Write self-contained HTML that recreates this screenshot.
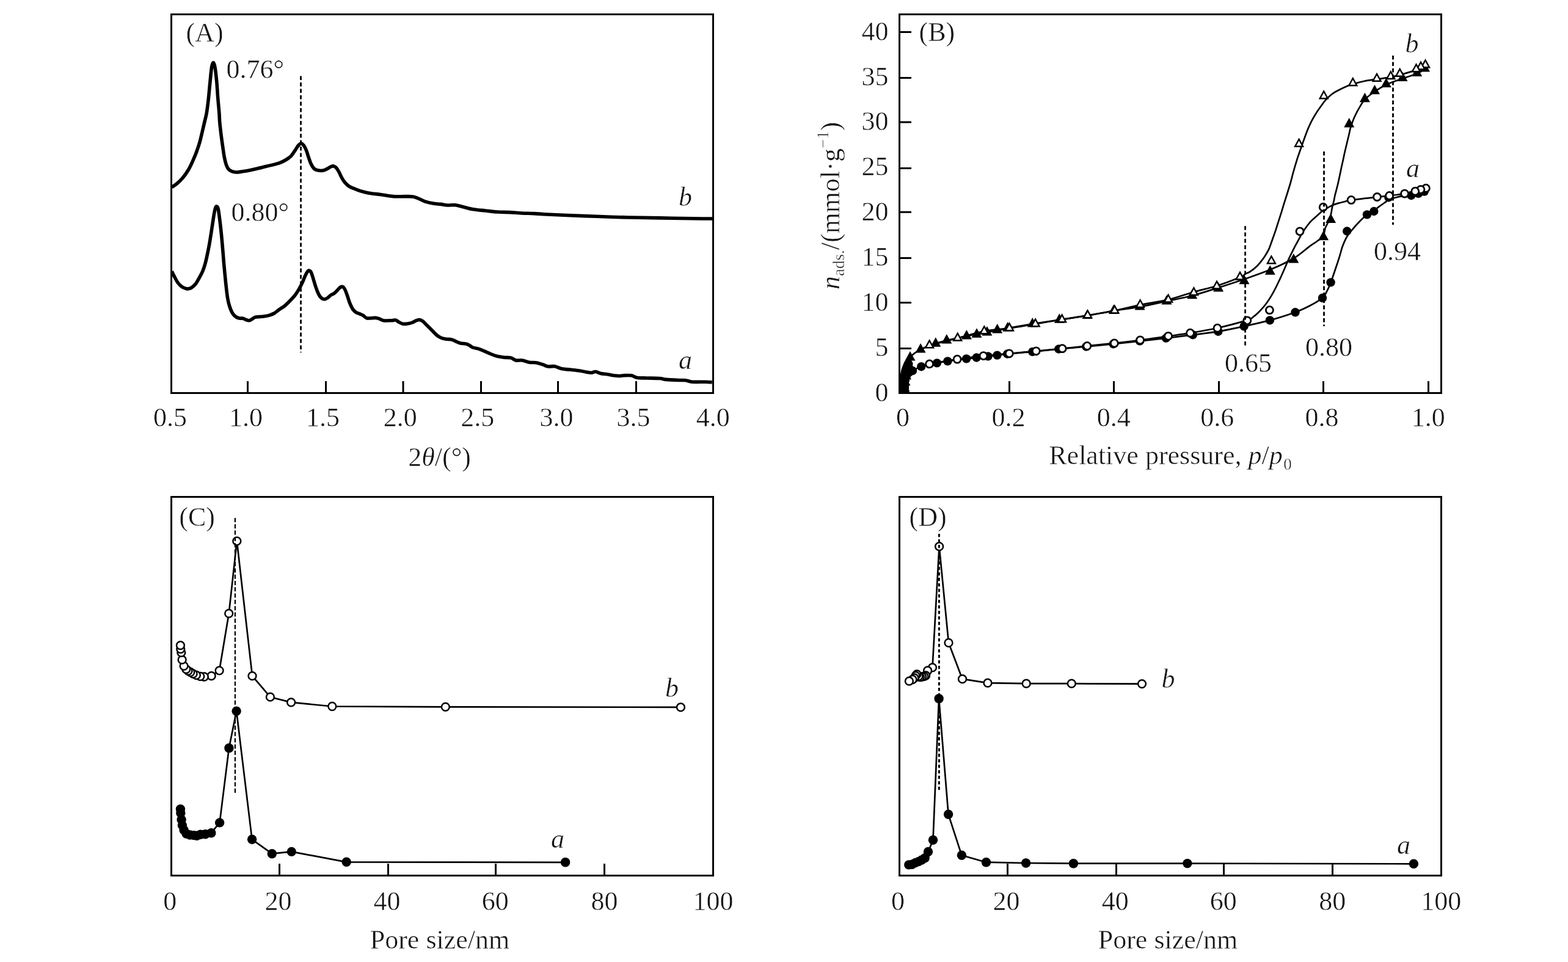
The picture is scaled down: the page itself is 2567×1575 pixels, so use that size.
<!DOCTYPE html>
<html lang="en"><head><meta charset="utf-8"><title>Figure</title>
<style>
html,body{margin:0;padding:0;background:#fff;}
body{width:2567px;height:1575px;overflow:hidden;}
svg{display:block;}
text{font-family:"Liberation Serif",serif;font-size:44px;fill:#111;stroke:#fff;stroke-width:.5px;}
.i{font-style:italic;}
</style></head>
<body>
<svg width="2567" height="1575" viewBox="0 0 2567 1575">
<rect width="2567" height="1575" fill="#fff"/>
<rect x="280.5" y="23.5" width="887.0" height="620.0" fill="none" stroke="#000" stroke-width="3"/>
<path d="M405.5 643.5V624.0 M533.5 643.5V624.0 M660 643.5V624.0 M787.5 643.5V624.0 M913.5 643.5V624.0 M1041.5 643.5V624.0" stroke="#000" stroke-width="3" fill="none"/>
<text x="278.6" y="698" text-anchor="middle">0.5</text>
<text x="402.5" y="698" text-anchor="middle">1.0</text>
<text x="528.5" y="698" text-anchor="middle">1.5</text>
<text x="655.3" y="698" text-anchor="middle">2.0</text>
<text x="781.8" y="698" text-anchor="middle">2.5</text>
<text x="911" y="698" text-anchor="middle">3.0</text>
<text x="1037" y="698" text-anchor="middle">3.5</text>
<text x="1167.3" y="698" text-anchor="middle">4.0</text>
<text x="719.5" y="762.6" text-anchor="middle">2<tspan class="i">θ</tspan>/(°)</text>
<text x="304.5" y="68">(A)</text>
<path d="M492.5 124.5V577" fill="none" stroke="#000" stroke-width="2.8" stroke-dasharray="6.5 4"/>
<path d="M281.2 306.5C282.6 305.5 286.8 303 289.8 300.5C292.8 298 296 295.1 299.1 291.3C302.2 287.6 305.8 282.4 308.4 278C311 273.6 312.8 269.7 315 264.8C317.2 259.9 319.6 254.2 321.6 248.9C323.6 243.6 325.4 238.4 326.9 233.1C328.4 227.8 329.5 222.7 330.8 217.2C332.1 211.7 333.6 205.2 334.8 200C336 194.8 337.1 191.5 338.1 185.8C339.1 180.1 340 172.6 340.8 166C341.6 159.4 342.2 152.7 342.8 146.1C343.4 139.5 344.1 132.5 344.7 126.3C345.3 120.1 345.9 113.1 346.7 109.1C347.5 105.1 348.5 102.3 349.4 102.5C350.3 102.7 351.1 105.3 352 110.4C352.9 115.5 353.9 124.7 354.7 132.9C355.5 141.1 355.9 150.6 356.6 159.4C357.3 168.2 358.4 179 358.9 185.8C359.4 192.6 359.2 194.3 359.7 200C360.2 205.7 361.1 213.2 361.9 219.8C362.7 226.4 363.7 233.5 364.6 239.7C365.5 245.9 366.2 251.8 367.2 256.9C368.2 262 369.3 266.7 370.5 270.1C371.7 273.5 372.9 275.6 374.5 277.4C376.1 279.2 377.8 279.9 379.8 280.7C381.8 281.5 383.8 281.9 386.4 282C389 282.1 391.9 281.6 395.7 281C399.4 280.4 404.5 279.6 408.9 278.7C413.3 277.8 417.7 276.7 422.1 275.7C426.5 274.7 430.9 273.6 435.3 272.5C439.7 271.4 444.6 270.5 448.6 269.4C452.6 268.3 455.9 267.4 459.2 266.1C462.5 264.8 465.5 263.2 468.4 261.5C471.2 259.8 473.9 258.1 476.3 255.6C478.7 253.1 481 249.2 483 246.3C485 243.4 486.7 240.3 488.3 238.4C489.9 236.5 491.4 234.7 492.9 234.7C494.4 234.7 496.1 236.5 497.5 238.4C498.9 240.3 500.2 243 501.5 246.3C502.8 249.6 504.1 254.4 505.4 258.2C506.7 261.9 507.8 265.8 509.4 268.8C510.9 271.9 512.7 274.8 514.7 276.5C516.7 278.2 518.9 278.7 521.3 279.1C523.7 279.5 526.6 279.7 529.3 279.1C531.9 278.5 535 276.5 537.2 275.4C539.4 274.3 541 273.1 542.5 272.5C544 271.9 545.2 271.7 546.5 272.1C547.8 272.5 549.1 273.3 550.4 274.7C551.7 276.1 552.8 277.9 554.4 280.7C556 283.5 557.9 288.2 559.7 291.3C561.5 294.4 563 296.9 565 299.2C567 301.5 569.2 303.6 571.6 305.2C574 306.8 576.5 307.5 579.5 308.7C582.5 309.9 585.9 311.4 589.8 312.6C593.7 313.8 597.6 314.9 603.1 315.9C608.6 316.9 616.1 317.6 622.9 318.5C629.7 319.4 637.5 321.1 644.1 321.6C650.7 322.1 657.3 321.6 662.6 321.6C667.9 321.7 672.3 321.4 675.8 321.9C679.3 322.4 680.5 323.2 683.8 324.5C687.1 325.8 691.5 328.4 695.7 329.8C699.9 331.2 704.5 332.3 708.9 333.1C713.3 333.9 718.1 333.9 722.1 334.4C726.1 334.9 728.7 335.8 732.7 336C736.7 336.2 741.5 335.2 745.9 335.7C750.3 336.2 754.4 337.8 759.2 339C764.1 340.2 769 341.8 775 342.8C781 343.8 788.3 344.3 794.9 345C801.5 345.7 808.1 346.6 814.7 347C821.3 347.4 828 347.3 834.6 347.6C841.2 347.9 847.8 348.7 854.4 349C861 349.3 868.3 349.3 874.2 349.6C880.1 349.9 881.9 350.2 890 350.7C898.1 351.1 908.6 351.7 922.9 352.3C937.2 352.9 958.2 353.7 975.8 354.3C993.4 354.9 1011.1 355.6 1028.7 356C1046.3 356.4 1063.9 356.6 1081.6 356.9C1099.2 357.2 1120.5 357.6 1134.6 357.8C1148.7 358 1161 358 1166.3 358" fill="none" stroke="#000" stroke-width="5.6" stroke-linejoin="round"/>
<path d="M281.2 444.3C282 445.9 284.2 450.5 285.9 453.6C287.6 456.7 289.2 460.2 291.2 462.9C293.2 465.5 295.6 467.9 297.8 469.5C300 471.1 302.6 471.8 304.4 472.4C306.2 472.9 306.8 473.1 308.4 472.8C309.9 472.5 311.7 472.1 313.7 470.8C315.7 469.5 318.1 467.7 320.3 464.8C322.5 461.9 324.9 457.2 326.9 453.6C328.9 450 330.7 446.8 332.2 443C333.7 439.2 334.9 435.5 336.1 431.1C337.3 426.7 338.3 421.9 339.4 416.6C340.5 411.3 341.8 404.9 342.8 399.4C343.8 393.9 344.5 389 345.4 383.5C346.3 378 347.1 372 348 366.3C348.9 360.6 349.9 353.4 350.7 349.1C351.5 344.8 352 342.4 352.7 340.5C353.4 338.6 354 337.8 354.7 337.9C355.4 338 356.3 338.7 357 341.2C357.7 343.7 358.2 347.8 358.9 353.1C359.6 358.4 360.6 366.3 361.3 372.9C362 379.5 362.7 386.2 363.3 392.8C363.9 399.4 364.4 406 365 412.6C365.6 419.2 366 425.8 366.6 432.4C367.2 439 367.9 445.8 368.5 452.3C369.1 458.8 369.8 465.4 370.5 471.5C371.2 477.6 371.9 484 372.8 489C373.7 494 374.5 497.6 375.8 501.5C377.1 505.4 378.6 509.5 380.4 512.4C382.2 515.3 384.4 517.5 386.4 518.9C388.4 520.3 390.4 520.6 392.3 521C394.2 521.4 395.8 520.9 397.6 521.3C399.4 521.7 401.1 523 402.9 523.6C404.7 524.2 406.6 524.9 408.2 524.7C409.8 524.6 410.6 523.6 412.2 522.7C413.8 521.8 415.5 520.1 417.5 519.4C419.5 518.7 421.7 518.8 424.1 518.6C426.5 518.4 429.1 518.4 432 518C434.9 517.6 438.4 517 441.3 516.1C444.2 515.2 446.6 514.3 449.2 512.8C451.8 511.2 454.5 508.7 457.1 506.8C459.8 504.9 462.5 503.6 465.1 501.5C467.8 499.4 470.1 497.1 473 494.2C475.9 491.3 479.7 487.6 482.3 484.3C484.9 481 486.8 477.9 488.9 474.4C491 470.9 493 466.9 494.8 463.1C496.6 459.4 498.1 455 499.5 451.9C500.9 448.8 502.3 446.1 503.4 444.6C504.5 443.1 505.1 442.7 506.1 442.9C507.1 443.1 508.3 443.8 509.4 446C510.5 448.2 511.5 452 512.7 455.9C513.9 459.8 515.3 464.9 516.7 469.1C518.1 473.3 519.8 477.9 521.3 481C522.8 484.1 524.2 486.1 525.9 487.6C527.5 489.1 529.4 490 531.2 490C533 490 534.7 488.8 536.5 487.6C538.3 486.4 540 484.2 541.8 483C543.6 481.8 545.3 481.6 547.1 480.3C548.9 479 550.8 476.8 552.4 475.1C554 473.5 555.5 471.3 557 470.4C558.5 469.5 560.3 469.1 561.6 469.8C562.9 470.5 563.7 471.9 564.9 474.4C566.1 476.9 567.6 481.2 568.9 485C570.2 488.8 571.5 493.4 572.9 496.9C574.3 500.4 575.9 503.7 577.5 506.1C579.1 508.5 580.8 510.1 582.8 511.4C584.8 512.7 587.4 513.2 589.4 514.1C591.4 515 592.9 515.6 594.7 516.7C596.5 517.8 598.2 520 600 520.7C601.8 521.4 602.9 521 605.3 521C607.7 521 612 520.2 614.6 520.4C617.2 520.6 619 521.3 621.2 522C623.4 522.7 624.5 524.2 627.8 524.7C631.1 525.2 637.7 524.8 641 524.7C644.3 524.6 645.6 523.6 647.6 524C649.6 524.4 650.9 526.3 652.9 527.3C654.9 528.3 657.1 529.8 659.5 530.2C661.9 530.6 664.6 530.3 667.2 529.9C669.8 529.5 672.7 528.9 675.1 528C677.5 527.1 679.7 525.4 681.7 524.7C683.7 524 685.2 523.4 687 523.6C688.8 523.8 690.3 524.5 692.3 526C694.3 527.5 696.5 530.2 698.9 532.6C701.3 535 704.2 537.9 706.9 540.5C709.5 543.1 712.4 546.5 714.8 548.5C717.2 550.5 719 551.7 721.4 552.8C723.8 553.9 726.5 554.6 729.4 555.1C732.3 555.6 736 555.2 738.6 555.7C741.2 556.2 742.8 557.4 745.2 558.4C747.6 559.4 750.1 560.9 753.2 561.7C756.3 562.5 761.2 562.6 763.8 563.3C766.4 564 767.2 564.8 769 565.7C770.8 566.7 771.9 568.1 774.3 569C776.7 569.9 780.5 570.2 783.6 571.2C786.7 572.2 789.6 573.5 792.9 574.9C796.2 576.3 799.9 578.1 803.4 579.5C806.9 580.9 810.2 582.3 814 583.3C817.8 584.2 822.1 584.8 825.9 585.2C829.6 585.6 833.4 585.1 836.5 585.9C839.6 586.7 841.3 589.2 844.4 589.9C847.5 590.6 851.2 589.3 855 589.9C858.8 590.5 863.1 592.6 866.9 593.2C870.6 593.8 874 593.1 877.5 593.7C881 594.3 884.8 595.7 888.1 596.7C891.4 597.8 894.1 599.5 897.4 600C900.7 600.5 904.2 599.2 907.9 599.8C911.6 600.4 915.4 602.9 919.8 603.8C924.2 604.7 929.5 604.8 934.4 605.3C939.2 605.8 944.3 606.2 948.9 606.9C953.5 607.6 958.8 609 962.1 609.6C965.4 610.2 966.5 610.4 968.6 610.2C970.8 610 972.5 608.3 975 608.5C977.5 608.7 980.4 610.8 983.6 611.5C986.8 612.2 990.7 612.2 994.3 612.8C997.9 613.3 1001.8 614.3 1005 614.8C1008.2 615.2 1010.9 615.5 1013.6 615.5C1016.3 615.5 1017.6 614.8 1021 614.7C1024.4 614.6 1030.3 614.2 1033.9 614.8C1037.5 615.4 1038.4 617.5 1042.5 618.2C1046.6 618.9 1052.2 618.8 1058.5 619C1064.8 619.2 1074.6 619.1 1080 619.5C1085.4 619.9 1085.4 620.9 1090.7 621.4C1096 621.9 1106.8 622.3 1112.1 622.5C1117.4 622.7 1119.2 622.2 1122.8 622.7C1126.4 623.2 1128.1 624.8 1133.5 625.2C1138.9 625.6 1149.6 625.1 1155 625.2C1160.4 625.3 1163.9 625.8 1165.7 625.9" fill="none" stroke="#000" stroke-width="5.6" stroke-linejoin="round"/>
<text x="370.5" y="128">0.76°</text>
<text x="378.5" y="361.5">0.80°</text>
<text x="1111" y="336.5" class="i">b</text>
<text x="1111" y="604" class="i">a</text>
<rect x="1472.5" y="23.5" width="887.0" height="620.0" fill="none" stroke="#000" stroke-width="3"/>
<path d="M1652.5 643.5V624.0 M1823.5 643.5V624.0 M1995.5 643.5V624.0 M2166.5 643.5V624.0 M2338.5 643.5V624.0" stroke="#000" stroke-width="3" fill="none"/>
<path d="M1472.5 52.4H1492.0 M1472.5 127.4H1492.0 M1472.5 199.9H1492.0 M1472.5 275.5H1492.0 M1472.5 347.3H1492.0 M1472.5 422.6H1492.0 M1472.5 495.4H1492.0 M1472.5 570.5H1492.0" stroke="#000" stroke-width="3" fill="none"/>
<text x="1478" y="698" text-anchor="middle">0</text>
<text x="1651" y="698" text-anchor="middle">0.2</text>
<text x="1823.2" y="698" text-anchor="middle">0.4</text>
<text x="1992.8" y="698" text-anchor="middle">0.6</text>
<text x="2164.1" y="698" text-anchor="middle">0.8</text>
<text x="2338.2" y="698" text-anchor="middle">1.0</text>
<text x="1454.5" y="656.8" text-anchor="end">0</text>
<text x="1454.5" y="582.9" text-anchor="end">5</text>
<text x="1454.5" y="509.0" text-anchor="end">10</text>
<text x="1454.5" y="435.1" text-anchor="end">15</text>
<text x="1454.5" y="361.2" text-anchor="end">20</text>
<text x="1454.5" y="287.3" text-anchor="end">25</text>
<text x="1454.5" y="213.4" text-anchor="end">30</text>
<text x="1454.5" y="139.5" text-anchor="end">35</text>
<text x="1454.5" y="65.6" text-anchor="end">40</text>
<text x="1916" y="760" text-anchor="middle">Relative pressure, <tspan class="i">p</tspan>/<tspan class="i">p</tspan><tspan font-size="27" dx="1.5" dy="9">0</tspan></text>
<text x="1504.5" y="66.5">(B)</text>
<clipPath id="cb"><rect x="1472.5" y="23.5" width="887" height="620"/></clipPath><g clip-path="url(#cb)">
<path d="M1481 640C1481.2 637 1481.3 626.5 1482 622C1482.7 617.5 1483 615.5 1485 613C1487 610.5 1490.1 609.1 1494 607C1497.9 604.9 1501.5 602.3 1508.2 600.2C1514.9 598.1 1526.7 595.9 1533.9 594.4C1541.1 592.9 1543.4 592.6 1551.4 591.4C1559.4 590.2 1571.1 588.7 1582.1 587.4C1593.1 586.1 1606.3 584.7 1617.5 583.4C1628.7 582.1 1637 580.8 1649.1 579.5C1661.2 578.2 1676.3 577.2 1690.3 575.9C1704.3 574.6 1718.5 572.9 1733.2 571.5C1747.9 570.1 1763.3 568.9 1778.2 567.5C1793.1 566.1 1808.1 564.7 1822.7 563.2C1837.3 561.7 1851.6 560 1866 558.4C1880.4 556.8 1894.4 555.3 1908.9 553.6C1923.4 551.9 1938.6 550 1952.8 548.2C1967 546.4 1980.4 545 1994.3 542.7C2008.2 540.4 2022.3 537.3 2036.4 534.3C2050.5 531.2 2064.7 528.2 2078.7 524.4C2092.7 520.5 2109.7 515.1 2120.5 511.2C2131.3 507.3 2136.1 504.9 2143.5 501C2150.9 497.1 2160 492.1 2165 487.7C2170 483.2 2171.2 478.5 2173.5 474.3C2175.8 470.1 2176.5 468 2178.7 462.3C2180.8 456.6 2184.1 446.9 2186.4 440C2188.8 433.1 2190.9 426.8 2192.8 420.7C2194.7 414.6 2195.8 409 2197.8 403.5C2199.9 398 2202.2 392.3 2205.1 387.5C2208 382.7 2211.6 378.7 2215 374.6C2218.4 370.5 2221.9 366.7 2225.7 362.8C2229.5 358.9 2234.1 354.3 2238 351.3C2241.9 348.3 2246 346.8 2249.3 344.6C2252.6 342.4 2254.6 340.5 2257.8 338.2C2261 335.9 2265.7 332.7 2268.5 330.7C2271.3 328.7 2271.2 327.8 2274.8 326.4C2278.4 325 2284.1 323.4 2290 322.1C2295.9 320.8 2305 319.4 2310.3 318.4C2315.6 317.4 2318.4 316.8 2322 316C2325.6 315.2 2330.3 314 2332 313.6" fill="none" stroke="#000" stroke-width="2.7" stroke-linejoin="round"/>
<path d="M1521.6 595.9C1529.2 594.6 1552.4 590.4 1567.1 588.2C1581.8 586 1595.8 584.2 1610 582.6C1624.2 581 1637.9 580.1 1652.3 578.8C1666.7 577.5 1681.7 576.1 1696.2 574.8C1710.7 573.4 1725.2 572.1 1739.1 570.7C1753 569.3 1765.6 567.9 1779.8 566.4C1794 564.9 1809.8 563.5 1824.3 561.9C1838.8 560.3 1851.9 558.7 1866.6 556.8C1881.3 554.9 1898.9 552.2 1912.6 550.3C1926.2 548.4 1935.1 547.4 1948.5 545.2C1961.9 543 1977.5 540.5 1993 537C2008.5 533.5 2031.9 527.2 2041.8 524.1C2051.7 521 2048.9 520.8 2052.5 518.2C2056.1 515.6 2059.6 512.2 2063.2 508.5C2066.8 504.8 2070.3 500.7 2073.9 495.7C2077.5 490.7 2081 485 2084.6 478.6C2088.2 472.2 2092.1 463.9 2095.3 457.1C2098.5 450.3 2101.4 443.6 2103.9 437.8C2106.4 432.1 2108.3 427.4 2110.5 422.6C2112.7 417.9 2114.9 413.4 2117 409.3C2119.1 405.2 2120.9 401.9 2123 398C2125.1 394.1 2127.4 389.5 2129.5 385.8C2131.6 382.1 2132.8 379.9 2135.5 376C2138.2 372.1 2142.4 366.3 2145.8 362.6C2149.2 358.9 2153 356.1 2155.8 353.6C2158.6 351.1 2160.4 349.4 2162.4 347.6C2164.4 345.8 2166 344.3 2168 343C2170 341.7 2171.9 340.9 2174.3 339.7C2176.7 338.5 2179.2 336.9 2182.2 335.7C2185.2 334.5 2189.1 333.3 2192.1 332.4C2195.1 331.5 2196.7 331.3 2200 330.5C2203.3 329.7 2203 328.8 2212.1 327.5C2221.2 326.2 2244.1 323.7 2254.5 322.5C2264.9 321.3 2267.1 321.3 2274.6 320.4C2282.1 319.5 2292.6 318.3 2299.6 317.1C2306.6 315.9 2311 314.7 2316.8 313.2C2322.6 311.7 2331.5 309 2334.4 308.2" fill="none" stroke="#000" stroke-width="2.7" stroke-linejoin="round"/>
<path d="M1481.5 636C1481.8 632.7 1482.6 622.7 1483.5 616C1484.4 609.3 1485.9 601.2 1487 596C1488.1 590.8 1486.7 589 1490 585C1493.3 581 1500.1 576 1507.1 572.3C1514.1 568.5 1524.7 565 1531.8 562.5C1538.9 560 1541.4 559.3 1549.8 557.3C1558.2 555.2 1571.4 552.4 1582.4 550.2C1593.4 548 1604.7 546.4 1615.9 544.3C1627.1 542.1 1637.2 539.6 1649.6 537.3C1662 535 1676.2 532.6 1690.3 530.3C1704.4 528 1719.3 525.8 1734.3 523.5C1749.2 521.2 1765.2 519.2 1780 516.8C1794.8 514.3 1808.9 511.2 1823.2 508.8C1837.5 506.4 1851.5 504.9 1866 502.3C1880.5 499.7 1895.7 496.2 1910 493.2C1924.3 490.1 1937.7 487.7 1951.8 484C1965.9 480.3 1980.4 475.5 1994.6 471C2008.8 466.5 2022.8 462 2036.9 457.1C2051 452.2 2065.8 447.3 2079.3 441.6C2092.8 435.9 2107.1 429.3 2117.8 423C2128.5 416.7 2137.1 408.3 2143.5 403.6C2149.9 398.9 2152.3 397.8 2156.1 395C2159.8 392.2 2163.8 390.6 2166 387C2168.2 383.4 2168.3 377.1 2169.6 373.5C2170.8 369.9 2172.2 368.2 2173.5 365.5C2174.8 362.8 2176.6 360.1 2177.5 357.5C2178.4 354.9 2178.6 352.6 2179.2 349.6C2179.8 346.6 2180.2 343 2180.9 339.7C2181.6 336.4 2182.7 333.1 2183.5 329.8C2184.3 326.5 2184.7 323.1 2185.5 319.8C2186.3 316.5 2187.2 313.4 2188.1 309.9C2189 306.4 2189.9 303 2190.8 299C2191.7 295 2192.7 290.2 2193.6 286C2194.5 281.8 2195.3 277.7 2196.2 273.5C2197.1 269.3 2198.1 265.2 2199 261C2199.9 256.8 2200.2 254.8 2201.8 248C2203.4 241.2 2206.9 226.7 2208.5 220C2210.1 213.3 2209.8 212.7 2211.4 207.8C2213 202.9 2215.3 196.2 2217.8 190.7C2220.3 185.2 2223.6 179.2 2226.4 174.6C2229.2 169.9 2230.4 166.9 2234.4 162.8C2238.4 158.7 2244.7 154 2250.5 150C2256.3 146 2261.7 142.3 2269.3 138.7C2276.9 135.1 2287.6 131.6 2296 128.6C2304.4 125.6 2313.5 123.1 2319.6 120.5C2325.7 117.9 2330.3 114.2 2332.5 113" fill="none" stroke="#000" stroke-width="2.7" stroke-linejoin="round"/>
<path d="M1521.6 565.4C1529.3 563.4 1552.8 557.5 1567.7 553.6C1582.7 549.8 1597.2 545 1611.3 542.3C1625.4 539.6 1638.5 539.3 1652.5 537.3C1666.5 535.3 1680.8 532.6 1695.1 530.3C1709.4 527.9 1724.3 525.5 1738.6 523.2C1752.8 520.9 1766.2 518.7 1780.6 516.3C1795 513.9 1810.5 511.5 1824.8 508.6C1839.1 505.7 1852 502.1 1866.6 499.1C1881.2 496.1 1897.9 494.1 1912.6 490.6C1927.2 487.1 1941.3 481.8 1954.5 478C1967.7 474.2 1979.4 472 1992 468C2004.6 464 2022.2 457.2 2030 454C2037.8 450.8 2035.8 450.2 2038.6 448.6C2041.4 447 2043.9 446.5 2047.1 444.3C2050.3 442.1 2054.2 439.3 2057.8 435.7C2061.4 432.1 2065.4 427.2 2068.5 422.8C2071.6 418.4 2074.5 413.3 2076.5 409.5C2078.5 405.7 2079.1 403.3 2080.3 400C2081.6 396.7 2082.8 392.9 2084 389.5C2085.2 386.1 2086.1 383.8 2087.6 379.4C2089.1 374.9 2091.1 368.3 2092.9 362.8C2094.7 357.3 2096.6 351.4 2098.2 346.3C2099.8 341.2 2101.1 336.5 2102.5 332C2103.9 327.5 2104.8 324.8 2106.5 319.5C2108.2 314.2 2110.7 306.2 2112.5 300C2114.3 293.8 2115.3 289 2117.1 282.5C2118.9 276 2121.4 267.5 2123.5 260.8C2125.6 254.1 2128 247.7 2129.8 242.5C2131.6 237.3 2132.5 234.7 2134.3 229.8C2136.1 224.9 2138.2 218.6 2140.4 213.2C2142.7 207.8 2145.3 202 2147.8 197.2C2150.3 192.4 2152.7 188.4 2155.2 184.5C2157.7 180.6 2160.2 177.2 2162.6 173.8C2165 170.4 2166.6 167.6 2169.6 164.3C2172.6 161.1 2176.7 157.1 2180.3 154.3C2183.9 151.6 2186.6 150.1 2191.1 147.8C2195.6 145.5 2203.1 142 2207.1 140.3C2211.1 138.6 2210.3 138.9 2214.8 137.7C2219.3 136.4 2227.4 134.2 2233.9 132.8C2240.4 131.5 2246.8 130.7 2254 129.6C2261.2 128.5 2270.5 127.6 2276.8 126.4C2283.1 125.2 2284.8 124.7 2291.7 122.7C2298.6 120.7 2311.5 117 2318.5 114.6C2325.5 112.2 2331 109.3 2333.5 108.2" fill="none" stroke="#000" stroke-width="2.7" stroke-linejoin="round"/>
<path d="M1480.5 642V618L1483 606L1487 596" fill="none" stroke="#000" stroke-width="15" stroke-linecap="round" stroke-linejoin="round"/>
<path d="M2332.5 101.9L2341 117.4H2324ZM2319.6 109.4L2328.1 124.9H2311.1ZM2296 117.4L2304.5 132.9H2287.5ZM2269.3 127.6L2277.8 143.1H2260.8ZM2250.5 138.8L2259 154.3H2242ZM2234.4 151.7L2242.9 167.2H2225.9ZM2208.7 192.9L2217.2 208.4H2200.2ZM2178.6 349.5L2187.1 365H2170.1ZM2166.6 377.7L2175.1 393.2H2158.1ZM2117.8 415.1L2126.3 430.6H2109.3ZM2079.3 434.2L2087.8 449.7H2070.8ZM2036.9 449.7L2045.4 465.2H2028.4ZM1994.6 462L2003.1 477.5H1986.1ZM1951.7 473.8L1960.2 489.3H1943.2ZM1910 482.9L1918.5 498.4H1901.5ZM1866 492L1874.5 507.5H1857.5ZM1823.2 498.5L1831.7 514H1814.7ZM1780 506.5L1788.5 522H1771.5ZM1734.3 513.2L1742.8 528.7H1725.8ZM1690.3 520L1698.8 535.5H1681.8ZM1649.6 527L1658.1 542.5H1641.1ZM1632.7 530.1L1641.2 545.6H1624.2ZM1615.9 534L1624.4 549.5H1607.4ZM1599 537.2L1607.5 552.7H1590.5ZM1582.4 539.9L1590.9 555.4H1573.9ZM1549.8 547L1558.3 562.5H1541.3ZM1531.8 552.2L1540.3 567.7H1523.3ZM1507.1 562L1515.6 577.5H1498.6ZM1490 574.9L1498.5 590.4H1481.5ZM1487 585.7L1495.5 601.2H1478.5ZM1485 595.7L1493.5 611.2H1476.5ZM1483.5 605.7L1492 621.2H1475ZM1482 615.7L1490.5 631.2H1473.5ZM1481 625.7L1489.5 641.2H1472.5Z"/>
<circle cx="2331.8" cy="313.6" r="7.2"/>
<circle cx="2322.1" cy="316.8" r="7.2"/>
<circle cx="2310.3" cy="320" r="7.2"/>
<circle cx="2273.4" cy="323.2" r="7.2"/>
<circle cx="2249.3" cy="346" r="7.2"/>
<circle cx="2238" cy="351.4" r="7.2"/>
<circle cx="2205.2" cy="378.5" r="7.2"/>
<circle cx="2178.6" cy="462.4" r="7.2"/>
<circle cx="2165" cy="487.8" r="7.2"/>
<circle cx="2120.5" cy="511.3" r="7.2"/>
<circle cx="2078.9" cy="524.4" r="7.2"/>
<circle cx="2036.6" cy="534.2" r="7.2"/>
<circle cx="1994.3" cy="542.7" r="7.2"/>
<circle cx="1952.8" cy="548.2" r="7.2"/>
<circle cx="1908.9" cy="553.6" r="7.2"/>
<circle cx="1866" cy="558.4" r="7.2"/>
<circle cx="1822.7" cy="563.2" r="7.2"/>
<circle cx="1778.2" cy="567.5" r="7.2"/>
<circle cx="1733.2" cy="571.5" r="7.2"/>
<circle cx="1690.3" cy="575.9" r="7.2"/>
<circle cx="1649.1" cy="579.5" r="7.2"/>
<circle cx="1632.5" cy="581.6" r="7.2"/>
<circle cx="1617.5" cy="583.4" r="7.2"/>
<circle cx="1598.7" cy="585.5" r="7.2"/>
<circle cx="1582.1" cy="587.4" r="7.2"/>
<circle cx="1551.4" cy="591.4" r="7.2"/>
<circle cx="1533.9" cy="594.4" r="7.2"/>
<circle cx="1508.2" cy="600.2" r="7.2"/>
<circle cx="1494" cy="607" r="7.2"/>
<circle cx="1488" cy="610" r="7.2"/>
<circle cx="1484" cy="615" r="7.2"/>
<circle cx="1482" cy="622" r="7.2"/>
<circle cx="1481" cy="630" r="7.2"/>
<circle cx="1480.5" cy="638" r="7.2"/>
<path d="M2333.5 96L2342 111.5H2325Z"/>
<path d="M2333.5 101L2337.9 109H2329.1Z" fill="#fff"/>
<path d="M2326 99.2L2334.5 114.7H2317.5Z"/>
<path d="M2326 104.2L2330.4 112.2H2321.6Z" fill="#fff"/>
<path d="M2318.5 102.9L2327 118.4H2310Z"/>
<path d="M2318.5 107.9L2322.9 115.9H2314.1Z" fill="#fff"/>
<path d="M2291.7 110.4L2300.2 125.9H2283.2Z"/>
<path d="M2291.7 115.4L2296.1 123.4H2287.3Z" fill="#fff"/>
<path d="M2276.8 114.7L2285.3 130.2H2268.3Z"/>
<path d="M2276.8 119.7L2281.2 127.7H2272.4Z" fill="#fff"/>
<path d="M2254 118.5L2262.5 134H2245.5Z"/>
<path d="M2254 123.5L2258.4 131.5H2249.6Z" fill="#fff"/>
<path d="M2214.8 125.8L2223.3 141.3H2206.3Z"/>
<path d="M2214.8 130.8L2219.2 138.8H2210.4Z" fill="#fff"/>
<path d="M2167.2 146.9L2175.7 162.4H2158.7Z"/>
<path d="M2167.2 151.9L2171.6 159.9H2162.8Z" fill="#fff"/>
<path d="M2126.6 225.4L2135.1 240.9H2118.1Z"/>
<path d="M2126.6 230.4L2131 238.4H2122.2Z" fill="#fff"/>
<path d="M2081.4 417L2089.9 432.5H2072.9Z"/>
<path d="M2081.4 422L2085.8 430H2077Z" fill="#fff"/>
<path d="M2030 443.3L2038.5 458.8H2021.5Z"/>
<path d="M2030 448.3L2034.4 456.3H2025.6Z" fill="#fff"/>
<path d="M1992 458.3L2000.5 473.8H1983.5Z"/>
<path d="M1992 463.3L1996.4 471.3H1987.6Z" fill="#fff"/>
<path d="M1954.4 468.7L1962.9 484.2H1945.9Z"/>
<path d="M1954.4 473.7L1958.8 481.7H1950Z" fill="#fff"/>
<path d="M1912.6 480.3L1921.1 495.8H1904.1Z"/>
<path d="M1912.6 485.3L1917 493.3H1908.2Z" fill="#fff"/>
<path d="M1866.6 488.8L1875.1 504.3H1858.1Z"/>
<path d="M1866.6 493.8L1871 501.8H1862.2Z" fill="#fff"/>
<path d="M1824.8 498.3L1833.3 513.8H1816.3Z"/>
<path d="M1824.8 503.3L1829.2 511.3H1820.4Z" fill="#fff"/>
<path d="M1780.6 506L1789.1 521.5H1772.1Z"/>
<path d="M1780.6 511L1785 519H1776.2Z" fill="#fff"/>
<path d="M1738.6 512.9L1747.1 528.4H1730.1Z"/>
<path d="M1738.6 517.9L1743 525.9H1734.2Z" fill="#fff"/>
<path d="M1695.1 520L1703.6 535.5H1686.6Z"/>
<path d="M1695.1 525L1699.5 533H1690.7Z" fill="#fff"/>
<path d="M1652.5 527L1661 542.5H1644Z"/>
<path d="M1652.5 532L1656.9 540H1648.1Z" fill="#fff"/>
<path d="M1611.3 532L1619.8 547.5H1602.8Z"/>
<path d="M1611.3 537L1615.7 545H1606.9Z" fill="#fff"/>
<path d="M1567.7 543.3L1576.2 558.8H1559.2Z"/>
<path d="M1567.7 548.3L1572.1 556.3H1563.3Z" fill="#fff"/>
<path d="M1521.6 555.1L1530.1 570.6H1513.1Z"/>
<path d="M1521.6 560.1L1526 568.1H1517.2Z" fill="#fff"/>
<circle cx="2334.4" cy="308.2" r="6.0" fill="#fff" stroke="#000" stroke-width="2.8"/>
<circle cx="2325.9" cy="310.3" r="6.0" fill="#fff" stroke="#000" stroke-width="2.8"/>
<circle cx="2316.8" cy="313.2" r="6.0" fill="#fff" stroke="#000" stroke-width="2.8"/>
<circle cx="2299.6" cy="317.1" r="6.0" fill="#fff" stroke="#000" stroke-width="2.8"/>
<circle cx="2274.6" cy="320.4" r="6.0" fill="#fff" stroke="#000" stroke-width="2.8"/>
<circle cx="2254.5" cy="322.5" r="6.0" fill="#fff" stroke="#000" stroke-width="2.8"/>
<circle cx="2212.1" cy="327.4" r="6.0" fill="#fff" stroke="#000" stroke-width="2.8"/>
<circle cx="2166.2" cy="339.2" r="6.0" fill="#fff" stroke="#000" stroke-width="2.8"/>
<circle cx="2128" cy="378.8" r="6.0" fill="#fff" stroke="#000" stroke-width="2.8"/>
<circle cx="2078.4" cy="507.7" r="6.0" fill="#fff" stroke="#000" stroke-width="2.8"/>
<circle cx="2041.8" cy="524.8" r="6.0" fill="#fff" stroke="#000" stroke-width="2.8"/>
<circle cx="1993" cy="537.2" r="6.0" fill="#fff" stroke="#000" stroke-width="2.8"/>
<circle cx="1948.5" cy="545.2" r="6.0" fill="#fff" stroke="#000" stroke-width="2.8"/>
<circle cx="1912.6" cy="550.3" r="6.0" fill="#fff" stroke="#000" stroke-width="2.8"/>
<circle cx="1866.6" cy="556.8" r="6.0" fill="#fff" stroke="#000" stroke-width="2.8"/>
<circle cx="1824.3" cy="561.9" r="6.0" fill="#fff" stroke="#000" stroke-width="2.8"/>
<circle cx="1779.8" cy="566.4" r="6.0" fill="#fff" stroke="#000" stroke-width="2.8"/>
<circle cx="1739.1" cy="570.7" r="6.0" fill="#fff" stroke="#000" stroke-width="2.8"/>
<circle cx="1696.2" cy="574.8" r="6.0" fill="#fff" stroke="#000" stroke-width="2.8"/>
<circle cx="1652.3" cy="578.8" r="6.0" fill="#fff" stroke="#000" stroke-width="2.8"/>
<circle cx="1610" cy="582.6" r="6.0" fill="#fff" stroke="#000" stroke-width="2.8"/>
<circle cx="1567.1" cy="588.2" r="6.0" fill="#fff" stroke="#000" stroke-width="2.8"/>
<circle cx="1521.6" cy="595.9" r="6.0" fill="#fff" stroke="#000" stroke-width="2.8"/>
</g>
<path d="M2038.6 370V567" fill="none" stroke="#000" stroke-width="2.8" stroke-dasharray="6.5 4"/>
<path d="M2167.5 248V534" fill="none" stroke="#000" stroke-width="2.8" stroke-dasharray="6.5 4"/>
<path d="M2280.5 91V368" fill="none" stroke="#000" stroke-width="2.8" stroke-dasharray="6.5 4"/>
<text x="2005" y="608.5">0.65</text>
<text x="2137" y="583">0.80</text>
<text x="2249" y="425.5">0.94</text>
<text x="2300.5" y="85.5" class="i">b</text>
<text x="2302" y="289.5" class="i">a</text>
<text transform="translate(1374,474) rotate(-90)" text-anchor="start"><tspan class="i">n</tspan><tspan font-size="27" dy="8">ads.</tspan><tspan dy="-8">/(mmol·g</tspan><tspan font-size="27" dy="-18">−1</tspan><tspan dy="18">)</tspan></text>
<rect x="280.5" y="813.5" width="887.0" height="620.0" fill="none" stroke="#000" stroke-width="3"/>
<path d="M457.5 1433.5V1414.0 M635.5 1433.5V1414.0 M811.5 1433.5V1414.0 M989.5 1433.5V1414.0" stroke="#000" stroke-width="3" fill="none"/>
<text x="278.2" y="1490" text-anchor="middle">0</text>
<text x="455.6" y="1490" text-anchor="middle">20</text>
<text x="633.4" y="1490" text-anchor="middle">40</text>
<text x="810.8" y="1490" text-anchor="middle">60</text>
<text x="989.4" y="1490" text-anchor="middle">80</text>
<text x="1167.4" y="1490" text-anchor="middle">100</text>
<text x="720" y="1553" text-anchor="middle">Pore size/nm</text>
<text x="293.3" y="861">(C)</text>
<path d="M295.4 1056.6L295.7 1062.5L296.8 1068.4L298.1 1080.2L301.1 1090.3L304.8 1095.7L308 1098.4L311.8 1100.5L316.1 1103.2L321.4 1105.3L327.8 1107.3L334.3 1108L346.1 1106.7L359.1 1097.8L374.7 1004.4L387.8 885.9L413 1106.7L442.4 1141.2L476.6 1149.9L543.8 1156.5L729.3 1157.4L1114.4 1157.9" fill="none" stroke="#000" stroke-width="2.7" stroke-linejoin="round"/>
<path d="M295.4 1324.7L295.8 1331.3L297.1 1341.9L298.4 1351.1L301.1 1359L305.1 1365L311 1367L317.6 1367.6L322.2 1368.3L328.2 1366.3L336.1 1365.7L345.8 1363.7L359.6 1346.9L374.9 1224.7L387.1 1164.2L412.6 1374.3L445.3 1397.7L477.3 1394.4L567.2 1411.3L925.6 1411.8" fill="none" stroke="#000" stroke-width="2.7" stroke-linejoin="round"/>
<circle cx="1114.4" cy="1157.9" r="6.4" fill="#fff" stroke="#000" stroke-width="2.5"/>
<circle cx="729.3" cy="1157.4" r="6.4" fill="#fff" stroke="#000" stroke-width="2.5"/>
<circle cx="543.8" cy="1156.5" r="6.4" fill="#fff" stroke="#000" stroke-width="2.5"/>
<circle cx="476.6" cy="1149.9" r="6.4" fill="#fff" stroke="#000" stroke-width="2.5"/>
<circle cx="442.4" cy="1141.2" r="6.4" fill="#fff" stroke="#000" stroke-width="2.5"/>
<circle cx="413" cy="1106.7" r="6.4" fill="#fff" stroke="#000" stroke-width="2.5"/>
<circle cx="387.8" cy="885.9" r="6.4" fill="#fff" stroke="#000" stroke-width="2.5"/>
<circle cx="374.7" cy="1004.4" r="6.4" fill="#fff" stroke="#000" stroke-width="2.5"/>
<circle cx="359.1" cy="1097.8" r="6.4" fill="#fff" stroke="#000" stroke-width="2.5"/>
<circle cx="346.1" cy="1106.7" r="6.4" fill="#fff" stroke="#000" stroke-width="2.5"/>
<circle cx="334.3" cy="1108" r="6.4" fill="#fff" stroke="#000" stroke-width="2.5"/>
<circle cx="327.8" cy="1107.3" r="6.4" fill="#fff" stroke="#000" stroke-width="2.5"/>
<circle cx="321.4" cy="1105.3" r="6.4" fill="#fff" stroke="#000" stroke-width="2.5"/>
<circle cx="316.1" cy="1103.2" r="6.4" fill="#fff" stroke="#000" stroke-width="2.5"/>
<circle cx="311.8" cy="1100.5" r="6.4" fill="#fff" stroke="#000" stroke-width="2.5"/>
<circle cx="308" cy="1098.4" r="6.4" fill="#fff" stroke="#000" stroke-width="2.5"/>
<circle cx="304.8" cy="1095.7" r="6.4" fill="#fff" stroke="#000" stroke-width="2.5"/>
<circle cx="301.1" cy="1090.3" r="6.4" fill="#fff" stroke="#000" stroke-width="2.5"/>
<circle cx="298.1" cy="1080.2" r="6.4" fill="#fff" stroke="#000" stroke-width="2.5"/>
<circle cx="296.8" cy="1068.4" r="6.4" fill="#fff" stroke="#000" stroke-width="2.5"/>
<circle cx="295.7" cy="1062.5" r="6.4" fill="#fff" stroke="#000" stroke-width="2.5"/>
<circle cx="295.4" cy="1056.6" r="6.4" fill="#fff" stroke="#000" stroke-width="2.5"/>
<circle cx="925.6" cy="1411.8" r="7.7"/>
<circle cx="567.2" cy="1411.3" r="7.7"/>
<circle cx="477.3" cy="1394.4" r="7.7"/>
<circle cx="445.3" cy="1397.7" r="7.7"/>
<circle cx="412.6" cy="1374.3" r="7.7"/>
<circle cx="387.1" cy="1164.2" r="7.7"/>
<circle cx="374.9" cy="1224.7" r="7.7"/>
<circle cx="359.6" cy="1346.9" r="7.7"/>
<circle cx="345.8" cy="1363.7" r="7.7"/>
<circle cx="336.1" cy="1365.7" r="7.7"/>
<circle cx="328.2" cy="1366.3" r="7.7"/>
<circle cx="322.2" cy="1368.3" r="7.7"/>
<circle cx="317.6" cy="1367.6" r="7.7"/>
<circle cx="311" cy="1367" r="7.7"/>
<circle cx="305.1" cy="1365" r="7.7"/>
<circle cx="301.1" cy="1359" r="7.7"/>
<circle cx="298.4" cy="1351.1" r="7.7"/>
<circle cx="297.1" cy="1341.9" r="7.7"/>
<circle cx="295.8" cy="1331.3" r="7.7"/>
<circle cx="295.4" cy="1324.7" r="7.7"/>
<path d="M384.9 848V1299" fill="none" stroke="#000" stroke-width="2.2" stroke-dasharray="7 3.3"/>
<text x="1089" y="1141" class="i">b</text>
<text x="902" y="1388" class="i">a</text>
<rect x="1472.5" y="813.5" width="887.0" height="620.0" fill="none" stroke="#000" stroke-width="3"/>
<path d="M1649.5 1433.5V1414.0 M1827.5 1433.5V1414.0 M2003.5 1433.5V1414.0 M2181.5 1433.5V1414.0" stroke="#000" stroke-width="3" fill="none"/>
<text x="1470" y="1490" text-anchor="middle">0</text>
<text x="1647.5" y="1490" text-anchor="middle">20</text>
<text x="1825.7" y="1490" text-anchor="middle">40</text>
<text x="2002.7" y="1490" text-anchor="middle">60</text>
<text x="2181.3" y="1490" text-anchor="middle">80</text>
<text x="2359.3" y="1490" text-anchor="middle">100</text>
<text x="1912" y="1553" text-anchor="middle">Pore size/nm</text>
<text x="1488.5" y="861">(D)</text>
<path d="M1488.4 1115.2L1494 1112.5L1497 1110L1499 1106.5L1501 1104L1504 1107L1506.3 1108.6L1509.5 1108L1512.9 1107.3L1515.6 1106L1518.6 1098L1526.5 1092.8L1537.6 894.7L1553 1052.4L1575.5 1111.7L1617 1118.1L1680.2 1119.2L1754.3 1119.2L1869.5 1119.6" fill="none" stroke="#000" stroke-width="2.7" stroke-linejoin="round"/>
<path d="M1487.8 1415.9L1493.1 1415.3L1498.4 1412.6L1503.7 1410.6L1508.9 1408L1514.2 1404.7L1519.5 1394.5L1527.5 1375.3L1537.1 1143.7L1552.6 1333.3L1574.4 1400.3L1614.5 1411.7L1679.6 1413L1757.4 1413.7L1943.9 1413.6L2314.4 1414.3" fill="none" stroke="#000" stroke-width="2.7" stroke-linejoin="round"/>
<circle cx="1869.5" cy="1119.6" r="6.4" fill="#fff" stroke="#000" stroke-width="2.5"/>
<circle cx="1754.3" cy="1119.2" r="6.4" fill="#fff" stroke="#000" stroke-width="2.5"/>
<circle cx="1680.2" cy="1119.2" r="6.4" fill="#fff" stroke="#000" stroke-width="2.5"/>
<circle cx="1617" cy="1118.1" r="6.4" fill="#fff" stroke="#000" stroke-width="2.5"/>
<circle cx="1575.5" cy="1111.7" r="6.4" fill="#fff" stroke="#000" stroke-width="2.5"/>
<circle cx="1553" cy="1052.4" r="6.4" fill="#fff" stroke="#000" stroke-width="2.5"/>
<circle cx="1537.6" cy="894.7" r="6.4" fill="#fff" stroke="#000" stroke-width="2.5"/>
<circle cx="1526.5" cy="1092.8" r="6.4" fill="#fff" stroke="#000" stroke-width="2.5"/>
<circle cx="1518.6" cy="1098" r="6.4" fill="#fff" stroke="#000" stroke-width="2.5"/>
<circle cx="1515.6" cy="1106" r="6.4" fill="#fff" stroke="#000" stroke-width="2.5"/>
<circle cx="1512.9" cy="1107.3" r="6.4" fill="#fff" stroke="#000" stroke-width="2.5"/>
<circle cx="1509.5" cy="1108" r="6.4" fill="#fff" stroke="#000" stroke-width="2.5"/>
<circle cx="1506.3" cy="1108.6" r="6.4" fill="#fff" stroke="#000" stroke-width="2.5"/>
<circle cx="1504" cy="1107" r="6.4" fill="#fff" stroke="#000" stroke-width="2.5"/>
<circle cx="1501" cy="1104" r="6.4" fill="#fff" stroke="#000" stroke-width="2.5"/>
<circle cx="1499" cy="1106.5" r="6.4" fill="#fff" stroke="#000" stroke-width="2.5"/>
<circle cx="1497" cy="1110" r="6.4" fill="#fff" stroke="#000" stroke-width="2.5"/>
<circle cx="1494" cy="1112.5" r="6.4" fill="#fff" stroke="#000" stroke-width="2.5"/>
<circle cx="1488.4" cy="1115.2" r="6.4" fill="#fff" stroke="#000" stroke-width="2.5"/>
<circle cx="2314.4" cy="1414.3" r="7.7"/>
<circle cx="1943.9" cy="1413.6" r="7.7"/>
<circle cx="1757.4" cy="1413.7" r="7.7"/>
<circle cx="1679.6" cy="1413" r="7.7"/>
<circle cx="1614.5" cy="1411.7" r="7.7"/>
<circle cx="1574.4" cy="1400.3" r="7.7"/>
<circle cx="1552.6" cy="1333.3" r="7.7"/>
<circle cx="1537.1" cy="1143.7" r="7.7"/>
<circle cx="1527.5" cy="1375.3" r="7.7"/>
<circle cx="1519.5" cy="1394.5" r="7.7"/>
<circle cx="1514.2" cy="1404.7" r="7.7"/>
<circle cx="1508.9" cy="1408" r="7.7"/>
<circle cx="1503.7" cy="1410.6" r="7.7"/>
<circle cx="1498.4" cy="1412.6" r="7.7"/>
<circle cx="1493.1" cy="1415.3" r="7.7"/>
<circle cx="1487.8" cy="1415.9" r="7.7"/>
<path d="M1537.4 874V1296" fill="none" stroke="#000" stroke-width="2.9" stroke-dasharray="5.3 3.7"/>
<text x="1901.5" y="1126" class="i">b</text>
<text x="2287" y="1398" class="i">a</text>
</svg>
</body></html>
